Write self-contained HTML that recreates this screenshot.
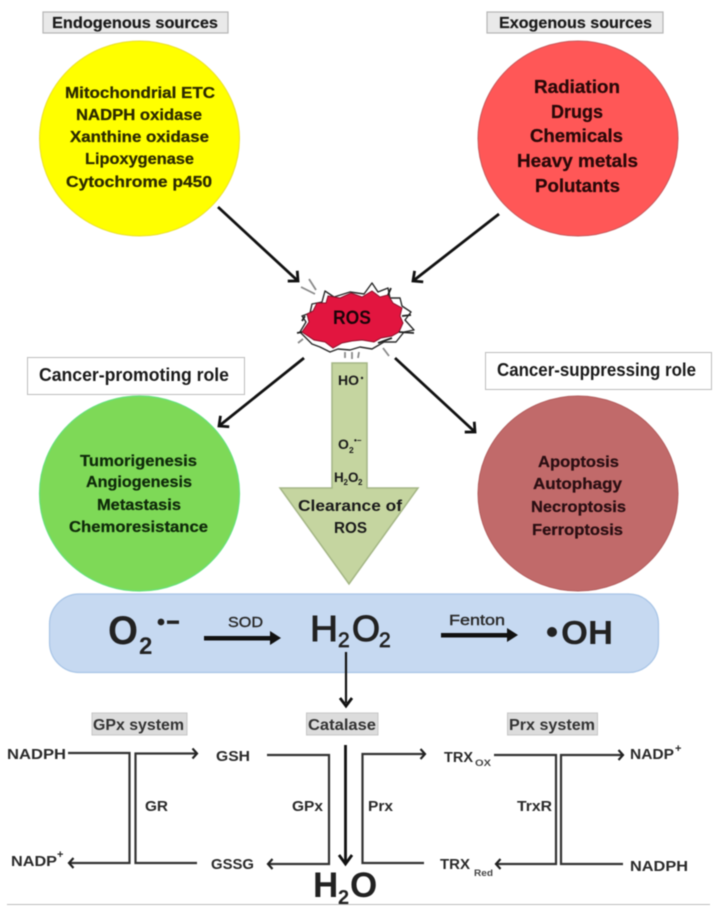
<!DOCTYPE html>
<html>
<head>
<meta charset="utf-8">
<style>
html,body{margin:0;padding:0;background:#fff;width:717px;height:915px;overflow:hidden}
svg{display:block;filter:blur(0.45px)}
text{font-family:"Liberation Sans",sans-serif;font-weight:bold;fill:#1a1a1a}
</style>
</head>
<body>
<svg width="717" height="915" viewBox="0 0 717 915" xmlns="http://www.w3.org/2000/svg">
<defs>
<marker id="a" markerUnits="userSpaceOnUse" markerWidth="20" markerHeight="20" refX="13" refY="10" orient="auto">
<path d="M5.500 3 L13 10 L5.500 17" fill="none" stroke="#111" stroke-width="2.800"/>
</marker>
<marker id="b" markerUnits="userSpaceOnUse" markerWidth="16" markerHeight="16" refX="11" refY="8" orient="auto">
<path d="M6.500 3 L11 8 L6.500 13" fill="none" stroke="#222" stroke-width="2.200"/>
</marker>
</defs>

<!-- header labels -->
<rect x="43" y="12" width="185" height="21" fill="#e9e9e9" stroke="#b5b5b5" stroke-width="1.200"/>
<text x="52" y="28" font-size="16" textLength="166" lengthAdjust="spacingAndGlyphs" style="stroke:#1a1a1a;stroke-width:.2">Endogenous sources</text>
<rect x="487" y="12" width="176" height="21" fill="#e9e9e9" stroke="#b5b5b5" stroke-width="1.200"/>
<text x="499" y="28" font-size="16" textLength="153" lengthAdjust="spacingAndGlyphs" style="stroke:#1a1a1a;stroke-width:.2">Exogenous sources</text>

<!-- circles -->
<ellipse cx="139.500" cy="138.500" rx="100" ry="97.500" fill="#ffff00" stroke="#eadf30" stroke-width="1"/>
<ellipse cx="578" cy="138.500" rx="100" ry="97.500" fill="#ff5757" stroke="#c8575a" stroke-width="1"/>
<ellipse cx="139.500" cy="493.500" rx="100" ry="97.500" fill="#7ed957" stroke="#66e07a" stroke-width="1.200"/>
<ellipse cx="578" cy="493.500" rx="100" ry="97.500" fill="#c16a6a" stroke="#b25c5c" stroke-width="1"/>

<!-- yellow text -->
<g font-size="16">
<text x="65" y="98" textLength="150" lengthAdjust="spacingAndGlyphs" style="fill:#2c2a00;stroke:#2c2a00;stroke-width:.25">Mitochondrial ETC</text>
<text x="76" y="120" textLength="126" lengthAdjust="spacingAndGlyphs" style="fill:#2c2a00;stroke:#2c2a00;stroke-width:.25">NADPH oxidase</text>
<text x="70" y="142" textLength="139" lengthAdjust="spacingAndGlyphs" style="fill:#2c2a00;stroke:#2c2a00;stroke-width:.25">Xanthine oxidase</text>
<text x="85" y="164" textLength="109" lengthAdjust="spacingAndGlyphs" style="fill:#2c2a00;stroke:#2c2a00;stroke-width:.25">Lipoxygenase</text>
<text x="66" y="187" textLength="146" lengthAdjust="spacingAndGlyphs" style="fill:#2c2a00;stroke:#2c2a00;stroke-width:.25">Cytochrome p450</text>
</g>
<!-- red text -->
<g font-size="18.500">
<text x="534" y="93" textLength="86" lengthAdjust="spacingAndGlyphs" style="fill:#2a0808;stroke:#2a0808;stroke-width:.25">Radiation</text>
<text x="551" y="118" textLength="52" lengthAdjust="spacingAndGlyphs" style="fill:#2a0808;stroke:#2a0808;stroke-width:.25">Drugs</text>
<text x="530" y="142" textLength="93" lengthAdjust="spacingAndGlyphs" style="fill:#2a0808;stroke:#2a0808;stroke-width:.25">Chemicals</text>
<text x="517" y="167" textLength="121" lengthAdjust="spacingAndGlyphs" style="fill:#2a0808;stroke:#2a0808;stroke-width:.25">Heavy metals</text>
<text x="535" y="192" textLength="85" lengthAdjust="spacingAndGlyphs" style="fill:#2a0808;stroke:#2a0808;stroke-width:.25">Polutants</text>
</g>
<!-- green text -->
<g font-size="16">
<text x="80" y="466" textLength="117" lengthAdjust="spacingAndGlyphs" style="fill:#0f2a0a;stroke:#0f2a0a;stroke-width:.25">Tumorigenesis</text>
<text x="86" y="487" textLength="106" lengthAdjust="spacingAndGlyphs" style="fill:#0f2a0a;stroke:#0f2a0a;stroke-width:.25">Angiogenesis</text>
<text x="97" y="510" textLength="84" lengthAdjust="spacingAndGlyphs" style="fill:#0f2a0a;stroke:#0f2a0a;stroke-width:.25">Metastasis</text>
<text x="69" y="532" textLength="139" lengthAdjust="spacingAndGlyphs" style="fill:#0f2a0a;stroke:#0f2a0a;stroke-width:.25">Chemoresistance</text>
</g>
<!-- rose text -->
<g font-size="16">
<text x="538" y="467" textLength="81" lengthAdjust="spacingAndGlyphs" style="fill:#2a0e12;stroke:#2a0e12;stroke-width:.25">Apoptosis</text>
<text x="533" y="489" textLength="89" lengthAdjust="spacingAndGlyphs" style="fill:#2a0e12;stroke:#2a0e12;stroke-width:.25">Autophagy</text>
<text x="531" y="512" textLength="95" lengthAdjust="spacingAndGlyphs" style="fill:#2a0e12;stroke:#2a0e12;stroke-width:.25">Necroptosis</text>
<text x="532" y="535" textLength="91" lengthAdjust="spacingAndGlyphs" style="fill:#2a0e12;stroke:#2a0e12;stroke-width:.25">Ferroptosis</text>
</g>

<!-- role labels -->
<rect x="27.500" y="357.500" width="217" height="37" fill="#fff" stroke="#bdbdbd" stroke-width="1"/>
<text x="39" y="381" font-size="18" textLength="190" lengthAdjust="spacingAndGlyphs">Cancer-promoting role</text>
<rect x="485.500" y="352.500" width="226" height="37" fill="#fff" stroke="#bdbdbd" stroke-width="1"/>
<text x="497" y="376" font-size="18" textLength="199" lengthAdjust="spacingAndGlyphs">Cancer-suppressing role</text>

<!-- main arrows -->
<g stroke="#111" stroke-width="2.800" fill="none">
<line x1="218" y1="207" x2="298" y2="281" marker-end="url(#a)"/>
<line x1="499" y1="214" x2="413" y2="281" marker-end="url(#a)"/>
<line x1="304" y1="358" x2="219" y2="426" marker-end="url(#a)"/>
<line x1="395" y1="358" x2="475" y2="432" marker-end="url(#a)"/>
</g>

<!-- ROS burst -->
<g>
<g stroke="#8a8a8a" stroke-width="1.800">
<line x1="301" y1="287" x2="315" y2="294"/><line x1="309" y1="279" x2="316" y2="290"/>
<line x1="345" y1="352" x2="345" y2="358"/><line x1="352" y1="352" x2="352" y2="359"/><line x1="359" y1="352" x2="358" y2="358"/>
<line x1="383" y1="348" x2="389" y2="356"/>
<line x1="303" y1="339" x2="298" y2="343"/>
</g>
<!-- white spiky halo -->
<path d="M300 332 L306 322 L302 316 L310 313 L312 304 L322 302 L325 291 L334 297 L350 292 L364 294 L372 283 L378 292 L388 288 L390 298 L400 298 L402 306 L411 312 L405 320 L414 330 L404 332 L396 342 L384 342 L372 349 L360 347 L350 350 L338 349 L330 352 L320 347 L312 344 L306 338 Z" fill="#fff" stroke="#2a2a2a" stroke-width="1.400" stroke-linejoin="round"/>
<!-- red core -->
<path d="M302 332 L309 322 L307 314 L313 311 L317 303 L326 303 L328 296 L340 298 L351 293 L362 297 L372 291 L380 297 L388 295 L393 303 L402 308 L400 316 L403 323 L399 332 L392 336 L381 338 L374 342 L362 340 L352 341 L342 343 L333 348 L325 342 L314 340 Z" fill="#e2153f" stroke="#8a1029" stroke-width="1"/>
<!-- short black spikes -->
<g stroke="#222" stroke-width="1.800" fill="none">
<path d="M388 295 L391 288 M402 316 L411 315 M399 332 L414 333 M302 332 L297 333 M378 343 L392 338 M305 316 L302 321"/>
</g>
</g>
<text x="333" y="324" font-size="19" textLength="38" lengthAdjust="spacingAndGlyphs" style="fill:#1c0409">ROS</text>

<!-- clearance arrow -->
<path d="M332 363 H367 V488 H418 L349 584 L280 488 H332 Z" fill="#c5d5a0" stroke="#a4b685" stroke-width="1.500"/>
<text x="338" y="385" font-size="14">HO</text>
<circle cx="362" cy="378" r="1.200" fill="#222"/>
<text x="338" y="449" font-size="14">O</text>
<text x="349" y="453" font-size="8.500">2</text>
<text x="354" y="443" font-size="8">•−</text>
<text x="334" y="482" font-size="13.500">H</text>
<text x="343.500" y="485" font-size="8">2</text>
<text x="348" y="482" font-size="13.500">O</text>
<text x="358" y="485" font-size="8">2</text>
<text x="298" y="511" font-size="16" textLength="104" lengthAdjust="spacingAndGlyphs">Clearance of</text>
<text x="334" y="533" font-size="16" textLength="33" lengthAdjust="spacingAndGlyphs">ROS</text>

<!-- blue band -->
<rect x="49.500" y="594" width="609" height="78.500" rx="30" ry="30" fill="#c6d9f1" stroke="#a7c4e6" stroke-width="1.200"/>
<text x="108" y="644" font-size="40" textLength="30" lengthAdjust="spacingAndGlyphs" style="fill:#222">O</text>
<text x="139" y="654" font-size="24" style="fill:#222">2</text>
<circle cx="161" cy="622" r="3.400" fill="#222"/>
<rect x="167" y="620.500" width="12" height="3.400" fill="#222"/>
<text x="310" y="641" font-size="36" textLength="28" lengthAdjust="spacingAndGlyphs" style="fill:#222;font-weight:normal;stroke:#222;stroke-width:1">H</text>
<text x="338" y="647" font-size="21" style="fill:#222;font-weight:normal;stroke:#222;stroke-width:.7">2</text>
<text x="352" y="641" font-size="36" textLength="28" lengthAdjust="spacingAndGlyphs" style="fill:#222;font-weight:normal;stroke:#222;stroke-width:1">O</text>
<text x="379" y="647" font-size="21" style="fill:#222;font-weight:normal;stroke:#222;stroke-width:.7">2</text>
<circle cx="552" cy="632" r="5" fill="#222"/>
<text x="561" y="644" font-size="33" textLength="52" lengthAdjust="spacingAndGlyphs" style="fill:#222">OH</text>
<text x="228" y="627" font-size="15" textLength="35" lengthAdjust="spacingAndGlyphs" style="fill:#2a2a2a;font-weight:normal;stroke:#2a2a2a;stroke-width:.4">SOD</text>
<text x="449" y="625" font-size="15" textLength="56" lengthAdjust="spacingAndGlyphs" style="fill:#2a2a2a;font-weight:normal;stroke:#2a2a2a;stroke-width:.4">Fenton</text>
<rect x="204" y="636" width="67" height="4.500" fill="#111"/>
<path d="M270 631 L281 638 L270 645 Z" fill="#111"/>
<rect x="441" y="633" width="68" height="4.500" fill="#111"/>
<path d="M507 628 L518 635 L507 642 Z" fill="#111"/>
<line x1="346" y1="652" x2="346" y2="703" stroke="#111" stroke-width="2.200"/>
<path d="M340 698 L346 706 L352 698" fill="none" stroke="#111" stroke-width="2.800"/>

<!-- system labels -->
<rect x="92" y="713" width="95" height="22" fill="#dcdcdc" stroke="#c6c6c6"/>
<text x="93" y="730" font-size="15.500" textLength="91" lengthAdjust="spacingAndGlyphs" style="fill:#333">GPx system</text>
<rect x="306.500" y="713" width="71.500" height="22" fill="#dcdcdc" stroke="#c6c6c6"/>
<text x="308" y="730" font-size="15.500" textLength="68" lengthAdjust="spacingAndGlyphs" style="fill:#333">Catalase</text>
<rect x="507.500" y="713" width="90" height="22" fill="#dcdcdc" stroke="#c6c6c6"/>
<text x="509" y="730" font-size="15.500" textLength="86" lengthAdjust="spacingAndGlyphs" style="fill:#333">Prx system</text>

<!-- pathway lines -->
<g fill="none" stroke="#333" stroke-width="2.200">
<polyline points="68,753 129.500,753 129.500,863 69,863" marker-end="url(#b)"/>
<polyline points="197,863 135.500,863 135.500,753.500 197,753.500" marker-end="url(#b)"/>
<polyline points="267,755 329,755 329,864 268,864" marker-end="url(#b)"/>
<polyline points="424,863 362.500,863 362.500,754 425,754" marker-end="url(#b)"/>
<polyline points="494,755 556,755 556,864 496,864" marker-end="url(#b)"/>
<polyline points="623,864 561,864 561,755 623,755" marker-end="url(#b)"/>
</g>
<line x1="345.500" y1="745" x2="345.500" y2="862" stroke="#111" stroke-width="2.800"/>
<path d="M339 855 L345.500 864 L352 855" fill="none" stroke="#111" stroke-width="2.800"/>

<!-- pathway labels -->
<text x="7" y="759" textLength="59" lengthAdjust="spacingAndGlyphs" font-size="15" style="fill:#2a2a2a">NADPH</text>
<text x="11" y="866" textLength="46" lengthAdjust="spacingAndGlyphs" font-size="15" style="fill:#2a2a2a">NADP</text>
<text x="57" y="858" font-size="11" style="fill:#2a2a2a">+</text>
<text x="216" y="761" textLength="34" lengthAdjust="spacingAndGlyphs" font-size="15" style="fill:#2a2a2a">GSH</text>
<text x="211" y="869" textLength="43" lengthAdjust="spacingAndGlyphs" font-size="15" style="fill:#2a2a2a">GSSG</text>
<text x="145" y="811" textLength="23" lengthAdjust="spacingAndGlyphs" font-size="15" style="fill:#2a2a2a">GR</text>
<text x="292" y="811" textLength="31" lengthAdjust="spacingAndGlyphs" font-size="15" style="fill:#2a2a2a">GPx</text>
<text x="368" y="811" textLength="25" lengthAdjust="spacingAndGlyphs" font-size="15" style="fill:#2a2a2a">Prx</text>
<text x="517" y="811" textLength="35" lengthAdjust="spacingAndGlyphs" font-size="15" style="fill:#2a2a2a">TrxR</text>
<text x="444" y="762" textLength="29" lengthAdjust="spacingAndGlyphs" font-size="15" style="fill:#2a2a2a">TRX</text>
<text x="475" y="766" textLength="16" lengthAdjust="spacingAndGlyphs" font-size="9.500" style="fill:#444">OX</text>
<text x="440" y="869" textLength="30" lengthAdjust="spacingAndGlyphs" font-size="15" style="fill:#2a2a2a">TRX</text>
<text x="474" y="876" textLength="19" lengthAdjust="spacingAndGlyphs" font-size="9.500" style="fill:#444">Red</text>
<text x="630" y="759" textLength="44" lengthAdjust="spacingAndGlyphs" font-size="15" style="fill:#2a2a2a">NADP</text>
<text x="675" y="752" font-size="11" style="fill:#2a2a2a">+</text>
<text x="630" y="871" textLength="58" lengthAdjust="spacingAndGlyphs" font-size="15" style="fill:#2a2a2a">NADPH</text>

<!-- H2O -->
<text x="313" y="897" font-size="35" style="fill:#222">H</text>
<text x="338" y="904" font-size="20" style="fill:#222">2</text>
<text x="350" y="897" font-size="35" style="fill:#222">O</text>

<line x1="7" y1="904.500" x2="710" y2="904.500" stroke="#bdbdbd" stroke-width="1"/>
</svg>
</body>
</html>
